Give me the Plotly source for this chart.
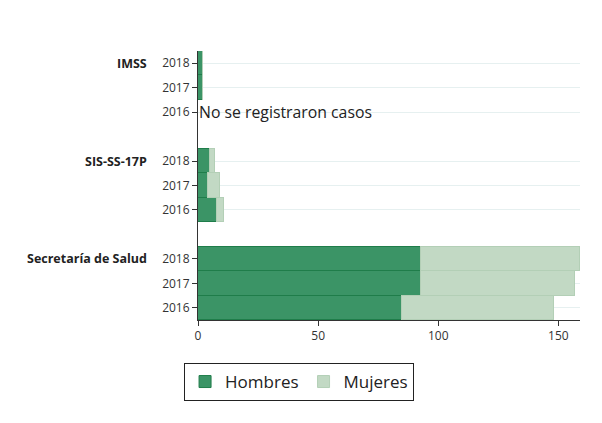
import plotly.graph_objects as go

groups = ["Secretaría de Salud", "SIS-SS-17P", "IMSS"]
years = ["2016", "2017", "2018"]
hombres = {
    "Secretaría de Salud": [85, 93, 93],
    "SIS-SS-17P": [8, 4, 5],
    "IMSS": [0, 2, 2],
}
mujeres = {
    "Secretaría de Salud": [63, 64, 66],
    "SIS-SS-17P": [3, 5, 2],
    "IMSS": [0, 0, 0],
}
no_data_note = ("IMSS", "2016", "No se registraron casos")

# positions: each group takes len(years) rows plus one blank separator row
ypos, yh, ym, ticktext = [], [], [], []
group_center = {}
for gi, g in enumerate(groups):
    for yi, yr in enumerate(years):
        p = gi * (len(years) + 1) + yi
        ypos.append(p)
        yh.append(hombres[g][yi])
        ym.append(mujeres[g][yi])
        ticktext.append(yr)
    group_center[g] = gi * (len(years) + 1) + len(years) - 1

fig = go.Figure()
fig.add_trace(go.Bar(
    y=ypos, x=yh, orientation="h", name="Hombres",
    marker=dict(color="#3b9466", line=dict(color="#1f7d4a", width=1)),
))
fig.add_trace(go.Bar(
    y=ypos, x=ym, orientation="h", name="Mujeres",
    marker=dict(color="#c2d9c4", line=dict(color="#b3cfb6", width=1)),
))

annotations = []
for g in groups:
    annotations.append(dict(
        x=-0.127, xref="paper", y=group_center[g], yref="y",
        text="<b>" + g + "</b>", showarrow=False, xanchor="right",
        font=dict(size=12.5, color="#222", family="Open Sans"),
    ))
ng, nyr, ntext = no_data_note
npos = groups.index(ng) * (len(years) + 1) + years.index(nyr)
annotations.append(dict(
    x=0, xref="x", y=npos, yref="y", text=ntext, showarrow=False,
    xanchor="left", xshift=-1, font=dict(size=15.8, color="#222", family="Open Sans"),
))

fig.update_layout(
    width=594, height=415,
    barmode="stack", bargap=0,
    plot_bgcolor="white", paper_bgcolor="white",
    margin=dict(l=190, r=22, t=43, b=103),
    font=dict(family="Open Sans", size=12, color="#333"),
    showlegend=True,
    legend=dict(
        orientation="h", xref="container", x=0.49, xanchor="center",
        yref="container", y=0.1446, yanchor="top",
        bordercolor="#222", borderwidth=1,
        font=dict(size=17, color="#222"),
        traceorder="normal",
        tracegroupgap=0,
    ),
    annotations=annotations,
)
fig.update_xaxes(
    range=[0, 159], tickvals=[0, 50, 100, 150],
    showgrid=False, zeroline=False,
    showline=True, linecolor="#333", linewidth=1,
    ticks="outside", ticklen=5, tickcolor="#333",
    tickfont=dict(size=12, color="#333"),
)
fig.update_yaxes(
    range=[-0.5, max(ypos) + 0.5],
    tickvals=ypos, ticktext=ticktext,
    showgrid=True, gridcolor="#e6f0f0", gridwidth=1,
    zeroline=False,
    showline=True, linecolor="#333", linewidth=1,
    ticks="outside", ticklen=5, tickcolor="#333",
    tickfont=dict(size=12, color="#333"),
)

fig.write_html("out.html")
